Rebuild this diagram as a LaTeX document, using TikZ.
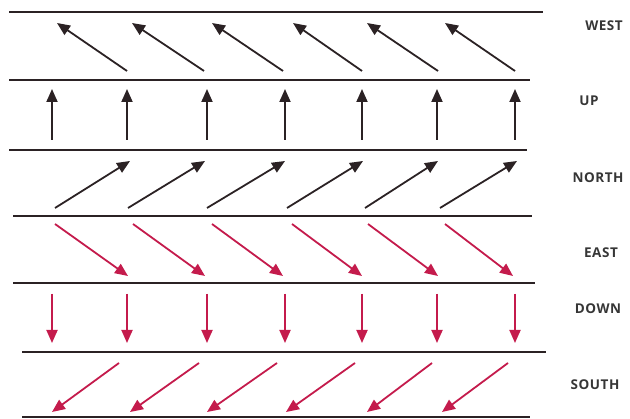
\documentclass[tikz,border=0pt]{standalone}
\usepackage{fontspec}
\setmainfont{Open Sans}
\usetikzlibrary{arrows.meta}
\definecolor{ink}{HTML}{2B2224}
\definecolor{rd}{HTML}{C41B4C}
\definecolor{lbl}{HTML}{363636}
\tikzset{
  band/.style={line width=2.6pt, draw=ink},
  blk/.style={line width=1.8pt, draw=ink, -{Triangle[length=13pt,width=11pt]}, fill=ink},
  red/.style={line width=1.8pt, draw=rd, -{Triangle[length=13pt,width=11pt]}, fill=rd},
  lab/.style={font=\bfseries\fontsize{13.5}{15}\selectfont\addfontfeature{LetterSpace=4}, text=lbl, inner sep=0pt}
}
\begin{document}
\begin{tikzpicture}[x=1pt,y=-1pt]
\useasboundingbox (0,0) rectangle (630,419);
% horizontal lines
\coordinate (l1a) at (9,12);   \coordinate (l1b) at (543,12);
\coordinate (l2a) at (9,80);   \coordinate (l2b) at (530,80);
\coordinate (l3a) at (9,150);  \coordinate (l3b) at (527,150);
\coordinate (l4a) at (13,216); \coordinate (l4b) at (532,216);
\coordinate (l5a) at (13,283); \coordinate (l5b) at (535,283);
\coordinate (l6a) at (22,352); \coordinate (l6b) at (546,352);
\coordinate (l7a) at (22,417); \coordinate (l7b) at (530,417);
\foreach \i in {1,...,7} \draw[band] (l\i a) -- (l\i b);
% WEST
\foreach \t/\h [count=\k] in {127/57,204/132,283/212,362/293,438/367,515/445}{
  \coordinate (wt\k) at (\t,71); \coordinate (wh\k) at (\h,23);
  \draw[blk] (wt\k) -- (wh\k);}
% UP
\foreach \x [count=\k] in {52,127,207,285,362,437,515}{
  \coordinate (ut\k) at (\x,140); \coordinate (uh\k) at (\x,89);
  \draw[blk] (ut\k) -- (uh\k);}
% NORTH
\foreach \t/\h [count=\k] in {55/130,128/205,207/285,287/363,365/438,440/517}{
  \coordinate (nt\k) at (\t,208); \coordinate (nh\k) at (\h,161);
  \draw[blk] (nt\k) -- (nh\k);}
% EAST
\foreach \t/\h [count=\k] in {55/128,133/205,212/283,292/362,368/438,445/513}{
  \coordinate (et\k) at (\t,224); \coordinate (eh\k) at (\h,276);
  \draw[red] (et\k) -- (eh\k);}
% DOWN
\foreach \x [count=\k] in {52,127,207,285,362,437,515}{
  \coordinate (dt\k) at (\x,294); \coordinate (dh\k) at (\x,343);
  \draw[red] (dt\k) -- (dh\k);}
% SOUTH
\foreach \t/\h [count=\k] in {119/52,199/130,277/207,355/286,432/367,508/442}{
  \coordinate (st\k) at (\t,363); \coordinate (sh\k) at (\h,412);
  \draw[red] (st\k) -- (sh\k);}
% labels
\node[lab] (west) at (604,26) {WEST};
\node[lab] (up) at (589,101) {UP};
\node[lab] (north) at (598,178) {NORTH};
\node[lab] (east) at (601,253) {EAST};
\node[lab] (down) at (598,309) {DOWN};
\node[lab] (south) at (595,385) {SOUTH};
\end{tikzpicture}
\end{document}
